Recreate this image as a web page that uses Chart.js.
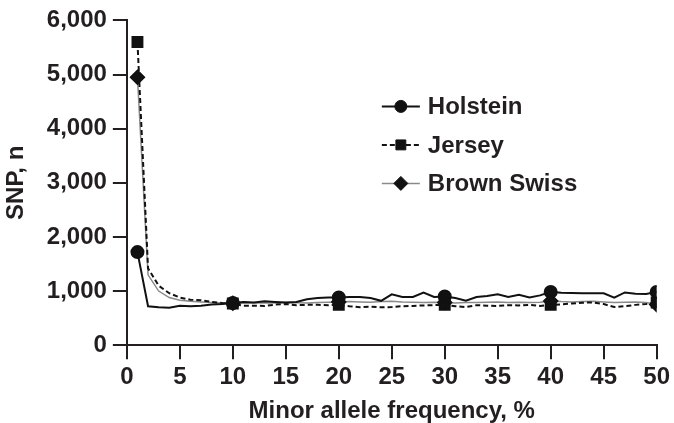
<!DOCTYPE html>
<html>
<head>
<meta charset="utf-8">
<script src="https://cdn.jsdelivr.net/npm/chart.js@4"></script>
<style>
  html, body { margin: 0; padding: 0; background: #fff; }
  #wrap { width: 674px; height: 423px; }
</style>
</head>
<body>
<div id="wrap"><canvas id="myChart" width="674" height="423"></canvas></div>
<script>
// minor allele frequency, % (1..50)
const freq = [];
for (let i = 1; i <= 50; i++) freq.push(i);

const holstein = [1720, 720, 700, 690, 730, 720, 730, 750, 760, 780,
  800, 790, 810, 800, 790, 800, 850, 870, 880, 880,
  890, 890, 870, 820, 940, 890, 890, 970, 890, 900,
  870, 820, 890, 910, 940, 890, 930, 880, 920, 985,
  970, 965, 960, 960, 960, 880, 975, 950, 945, 985];

const jersey = [5600, 1420, 1100, 960, 880, 840, 830, 800, 780, 770,
  730, 730, 725, 750, 760, 740, 745, 745, 740, 745,
  720, 700, 710, 700, 705, 720, 725, 735, 740, 745,
  720, 705, 740, 730, 725, 740, 735, 745, 725, 745,
  755, 770, 785, 790, 760, 705, 720, 745, 760, 790];

const brownSwiss = [4950, 1300, 1000, 880, 830, 810, 800, 790, 780, 775,
  780, 780, 785, 780, 790, 785, 780, 790, 795, 800,
  805, 800, 795, 805, 810, 800, 795, 790, 795, 790,
  780, 790, 790, 795, 800, 790, 795, 790, 795, 815,
  805, 800, 805, 810, 800, 790, 795, 800, 790, 750];

// x values that get a marker
const markedAt = [1, 10, 20, 30, 40, 50];

const seriesNames = ['Holstein', 'Jersey', 'Brown Swiss'];

const ink = '#231f20';
const family = '"Liberation Sans", Arial, sans-serif';

function toPoints(values) {
  return values.map((v, i) => ({x: freq[i], y: v}));
}

function markerRadius(size) {
  return ctx => markedAt.includes(freq[ctx.dataIndex]) ? size : 0;
}

// legend with a short line + marker, drawn inside the plot
const lineLegend = {
  id: 'lineLegend',
  afterDraw(chart) {
    const c = chart.ctx;
    const area = chart.chartArea;
    const x0 = area.left + 255;
    const y0 = area.top + 86;
    c.save();
    chart.data.datasets.forEach((ds, i) => {
      const y = y0 + i * 38.5;
      c.beginPath();
      c.strokeStyle = ds.borderColor;
      c.lineWidth = ds.borderWidth;
      c.setLineDash(ds.borderDash || []);
      c.moveTo(x0, y);
      c.lineTo(x0 + 38, y);
      c.stroke();
      c.setLineDash([]);
      c.fillStyle = '#111';
      c.strokeStyle = '#111';
      c.lineWidth = 1;
      Chart.helpers.drawPoint(c, {
        pointStyle: ds.pointStyle,
        radius: ds.legendRadius,
        borderWidth: 1
      }, x0 + 19, y);
      c.fillStyle = ink;
      c.font = 'bold 24px ' + family;
      c.textBaseline = 'middle';
      c.fillText(ds.label, x0 + 46, y + 1);
    });
    c.restore();
  }
};

const myChart = document.getElementById('myChart');

new Chart(myChart, {
  type: 'line',
  data: {
    datasets: [
      {
        label: seriesNames[0],
        data: toPoints(holstein),
        borderColor: '#111',
        borderWidth: 2,
        pointStyle: 'circle',
        pointRadius: markerRadius(6),
        legendRadius: 6,
        pointBackgroundColor: '#111',
        pointBorderColor: '#111',
        tension: 0
      },
      {
        label: seriesNames[1],
        data: toPoints(jersey),
        borderColor: '#111',
        borderWidth: 2,
        borderDash: [5, 3],
        pointStyle: 'rect',
        pointRadius: markerRadius(7),
        legendRadius: 7,
        pointBackgroundColor: '#111',
        pointBorderColor: '#111',
        tension: 0
      },
      {
        label: seriesNames[2],
        data: toPoints(brownSwiss),
        borderColor: '#8a8a8a',
        borderWidth: 1.5,
        pointStyle: 'rectRot',
        pointRadius: markerRadius(7),
        legendRadius: 7,
        pointBackgroundColor: '#111',
        pointBorderColor: '#111',
        tension: 0
      }
    ]
  },
  options: {
    responsive: false,
    animation: false,
    devicePixelRatio: 1,
    layout: {padding: {top: 10, right: 0, left: 2, bottom: 0}},
    plugins: {
      legend: {display: false},
      tooltip: {enabled: false}
    },
    scales: {
      x: {
        type: 'linear',
        min: 0,
        max: 50,
        ticks: {stepSize: 5, color: ink, font: {family: family, size: 24, weight: 'bold'}, padding: 4, maxRotation: 0},
        grid: {drawOnChartArea: false, color: ink, lineWidth: 2, tickLength: 14},
        border: {color: ink, width: 2},
        title: {display: true, text: 'Minor allele frequency, %', color: ink,
          font: {family: family, size: 24, weight: 'bold', lineHeight: 1}, padding: {top: 3, bottom: 0}}
      },
      y: {
        min: 0,
        max: 6000,
        ticks: {stepSize: 1000, color: ink, font: {family: family, size: 24, weight: 'bold'}, padding: 6,
          callback: v => v.toLocaleString('en-US')},
        grid: {drawOnChartArea: false, color: ink, lineWidth: 2, tickLength: 14},
        border: {color: ink, width: 2},
        title: {display: true, text: 'SNP, n', color: ink,
          font: {family: family, size: 24, weight: 'bold'}, padding: {top: 0, bottom: 10}}
      }
    }
  },
  plugins: [lineLegend]
});
</script>
</body>
</html>
